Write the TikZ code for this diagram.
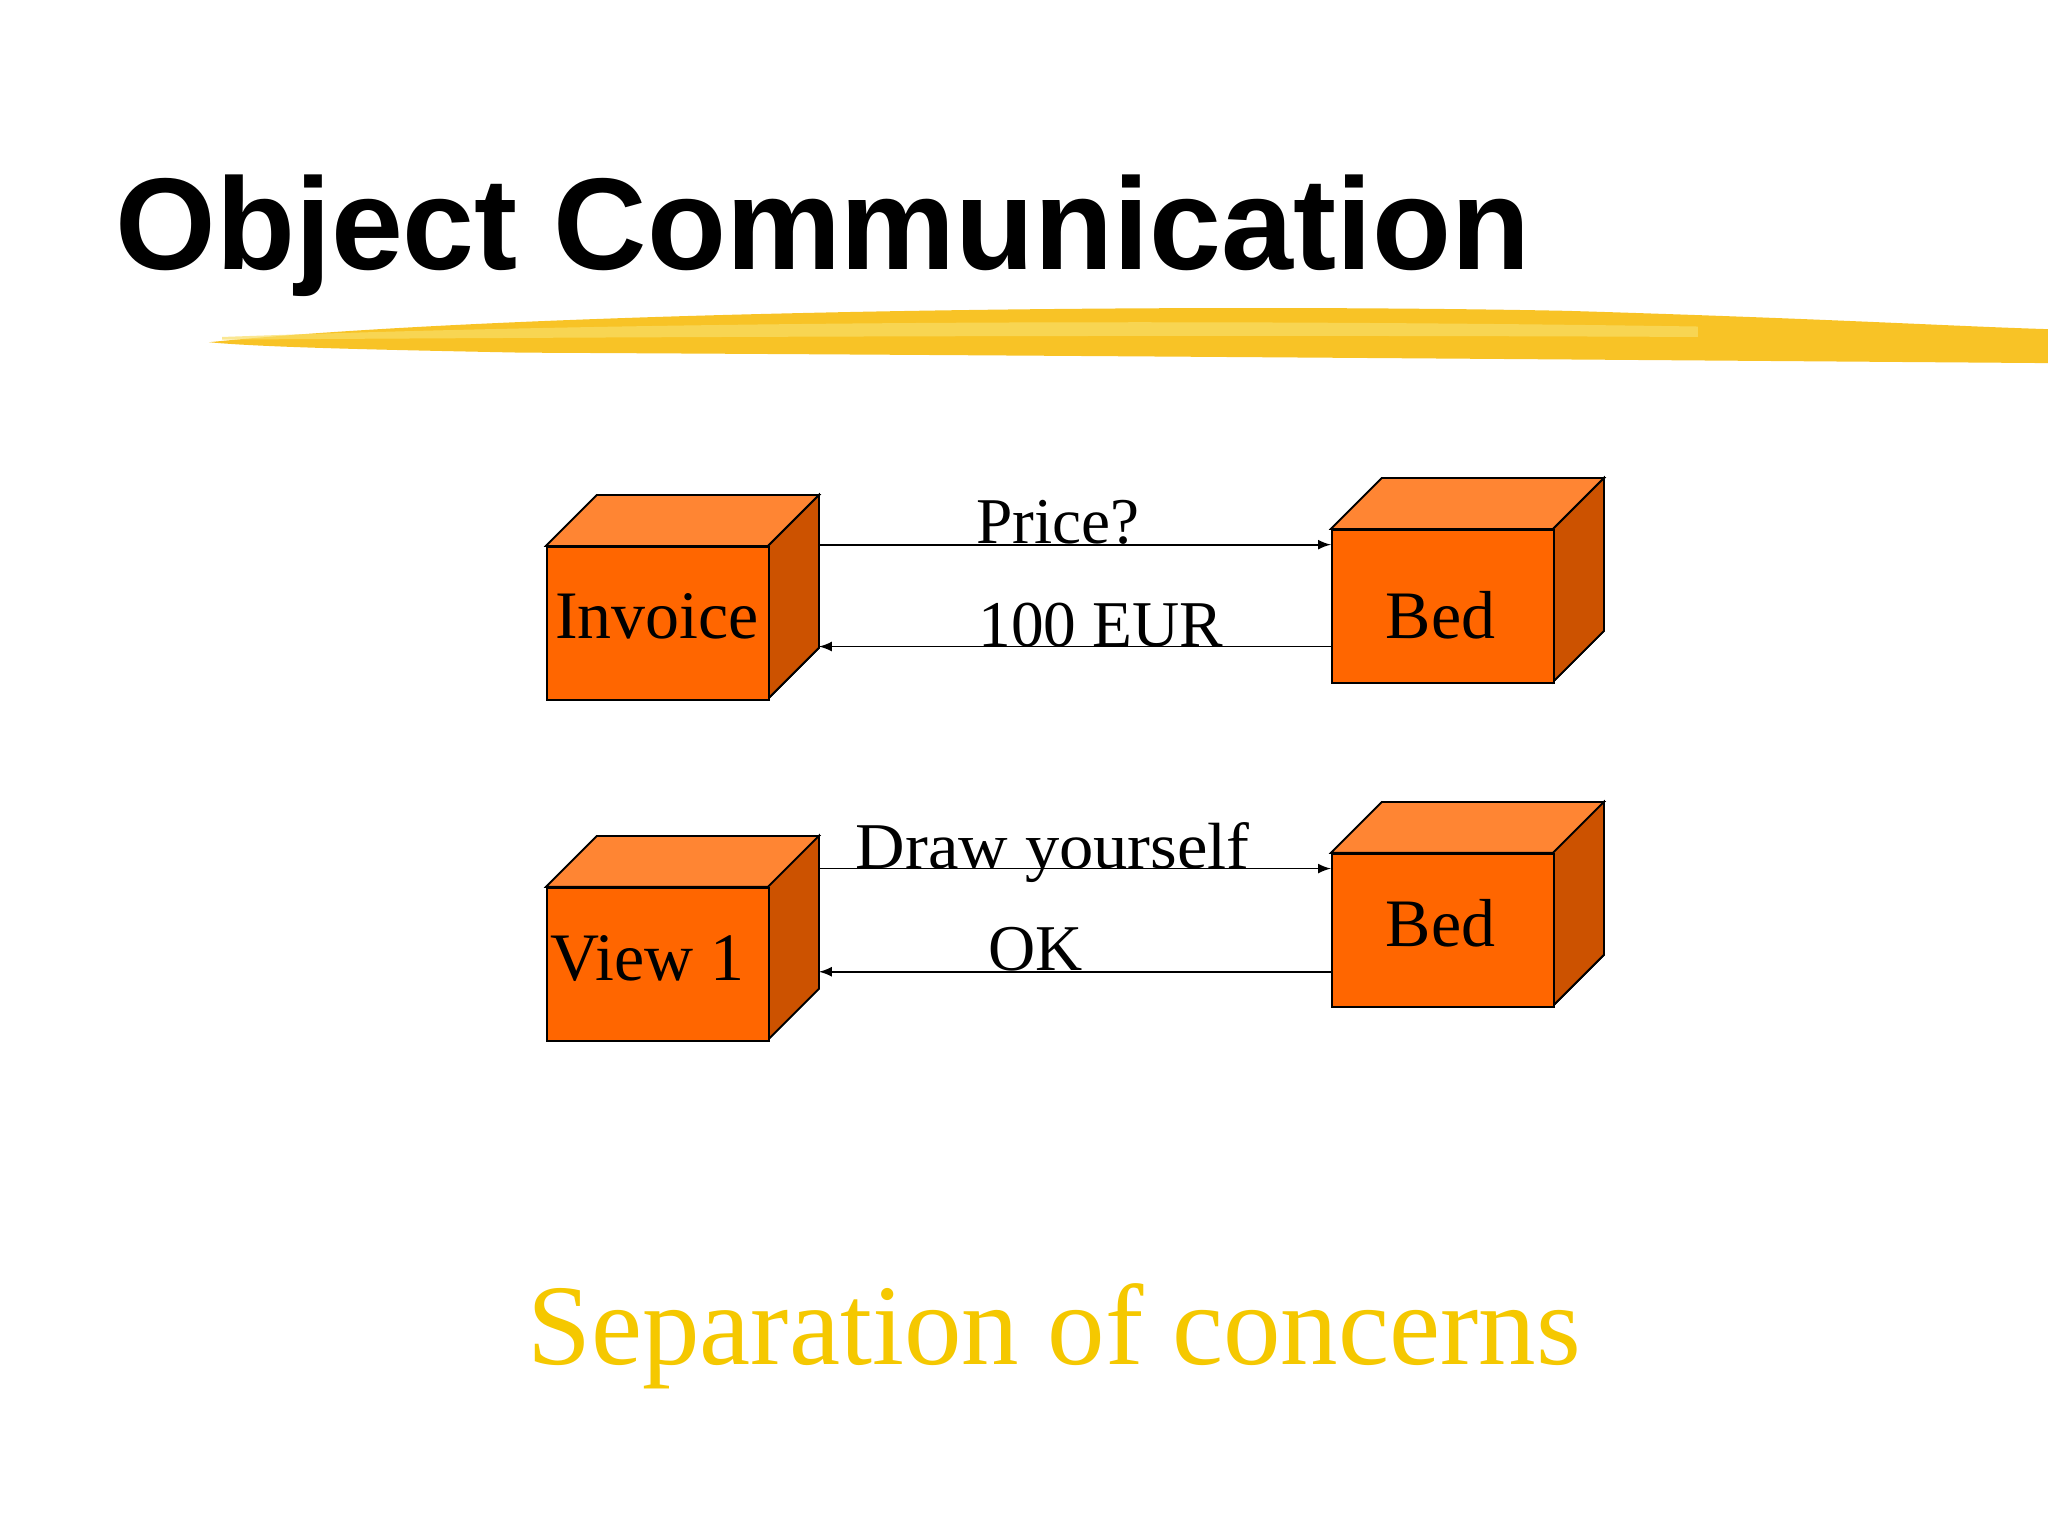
\documentclass[tikz,border=0pt]{standalone}
\usepackage{fontspec}
\setmainfont{Liberation Serif}
\newfontfamily\titlefont{Liberation Sans}
\begin{document}
\begin{tikzpicture}[x=0.5pt,y=-0.5pt,
  front/.style={draw=black,fill=frontc,line width=0.7pt},
  topf/.style={draw=black,fill=topc,line width=0.7pt},
  sidef/.style={draw=black,fill=sidec,line width=0.7pt},
  lbl/.style={font=\fontsize{25}{30}\selectfont,inner sep=0pt,anchor=base},
  boxt/.style={font=\fontsize{26}{30}\selectfont,inner sep=0pt},
  arr/.style={-latex,line width=0.7pt}]
\definecolor{frontc}{HTML}{FF6600}
\definecolor{topc}{HTML}{FF8533}
\definecolor{sidec}{HTML}{CC5200}
\definecolor{ylw}{HTML}{F5C800}
\useasboundingbox[fill=white] (0,0) rectangle (1568,1176);
% title
\node[font=\titlefont\bfseries\fontsize{50}{56}\selectfont,anchor=base west,inner sep=0pt,xscale=0.99] (title) at (88,206) {Object Communication};
% brush stroke
\fill[ylw!80!orange,opacity=0.85] (160,262) .. controls (400,238) and (900,232) .. (1200,238) .. controls (1400,244) and (1500,250) .. (1568,252) -- (1568,278) .. controls (1300,276) and (800,272) .. (400,270) .. controls (300,268) and (200,266) .. (160,262) -- cycle;
\fill[ylw!60!white,opacity=0.7] (170,258) .. controls (500,246) and (900,244) .. (1300,250) -- (1300,258) .. controls (900,256) and (500,258) .. (170,260) -- cycle;
% boxes
\newcommand\cube[4]{% name, x, y, text
  \fill[topf] (#2,#3) -- ++(39,-39) -- ++(170,0) -- ++(-39,39) -- cycle;
  \fill[sidef] (#2+170,#3) -- ++(39,-39) -- ++(0,117) -- ++(-39,39) -- cycle;
  \draw[topf] (#2,#3) -- ++(39,-39) -- ++(170,0) -- ++(-39,39) -- cycle;
  \draw[sidef] (#2+170,#3) -- ++(39,-39) -- ++(0,117) -- ++(-39,39) -- cycle;
  \node[front,minimum width=85pt,minimum height=58.5pt,anchor=north west,inner sep=0pt] (#1) at (#2,#3) {};
}
\cube{inv}{418}{418}{}
\cube{bedA}{1019}{405}{}
\cube{view}{418}{679}{}
\cube{bedB}{1019}{653}{}
\node[boxt,anchor=base] (tinv) at (503,489) {Invoice};
\node[boxt,anchor=base] (tbedA) at (1103,489) {Bed};
\node[boxt,anchor=base west] (tview) at (421,751) {View 1};
\node[boxt,anchor=base] (tbedB) at (1103,725) {Bed};
% connectors
\coordinate (p1) at (627,417); \coordinate (p2) at (1019,417);
\coordinate (q1) at (1019,495); \coordinate (q2) at (627,495);
\coordinate (r1) at (627,665); \coordinate (r2) at (1019,665);
\coordinate (s1) at (1019,744); \coordinate (s2) at (627,744);
\draw[arr] (p1) -- (p2);
\draw[arr] (q1) -- (q2);
\draw[arr] (r1) -- (r2);
\draw[arr] (s1) -- (s2);
\node[lbl] (l1) at (810,416) {Price?};
\node[lbl] (l2) at (843,495) {100 EUR};
\node[lbl,xscale=1.05] (l3) at (806,665) {Draw yourself};
\node[lbl] (l4) at (793,743) {OK};
% subtitle
\node[font=\fontsize{44}{50}\selectfont,text=ylw,anchor=base,inner sep=0pt] (sub) at (807,1045) {Separation of concerns};
\end{tikzpicture}
\end{document}
